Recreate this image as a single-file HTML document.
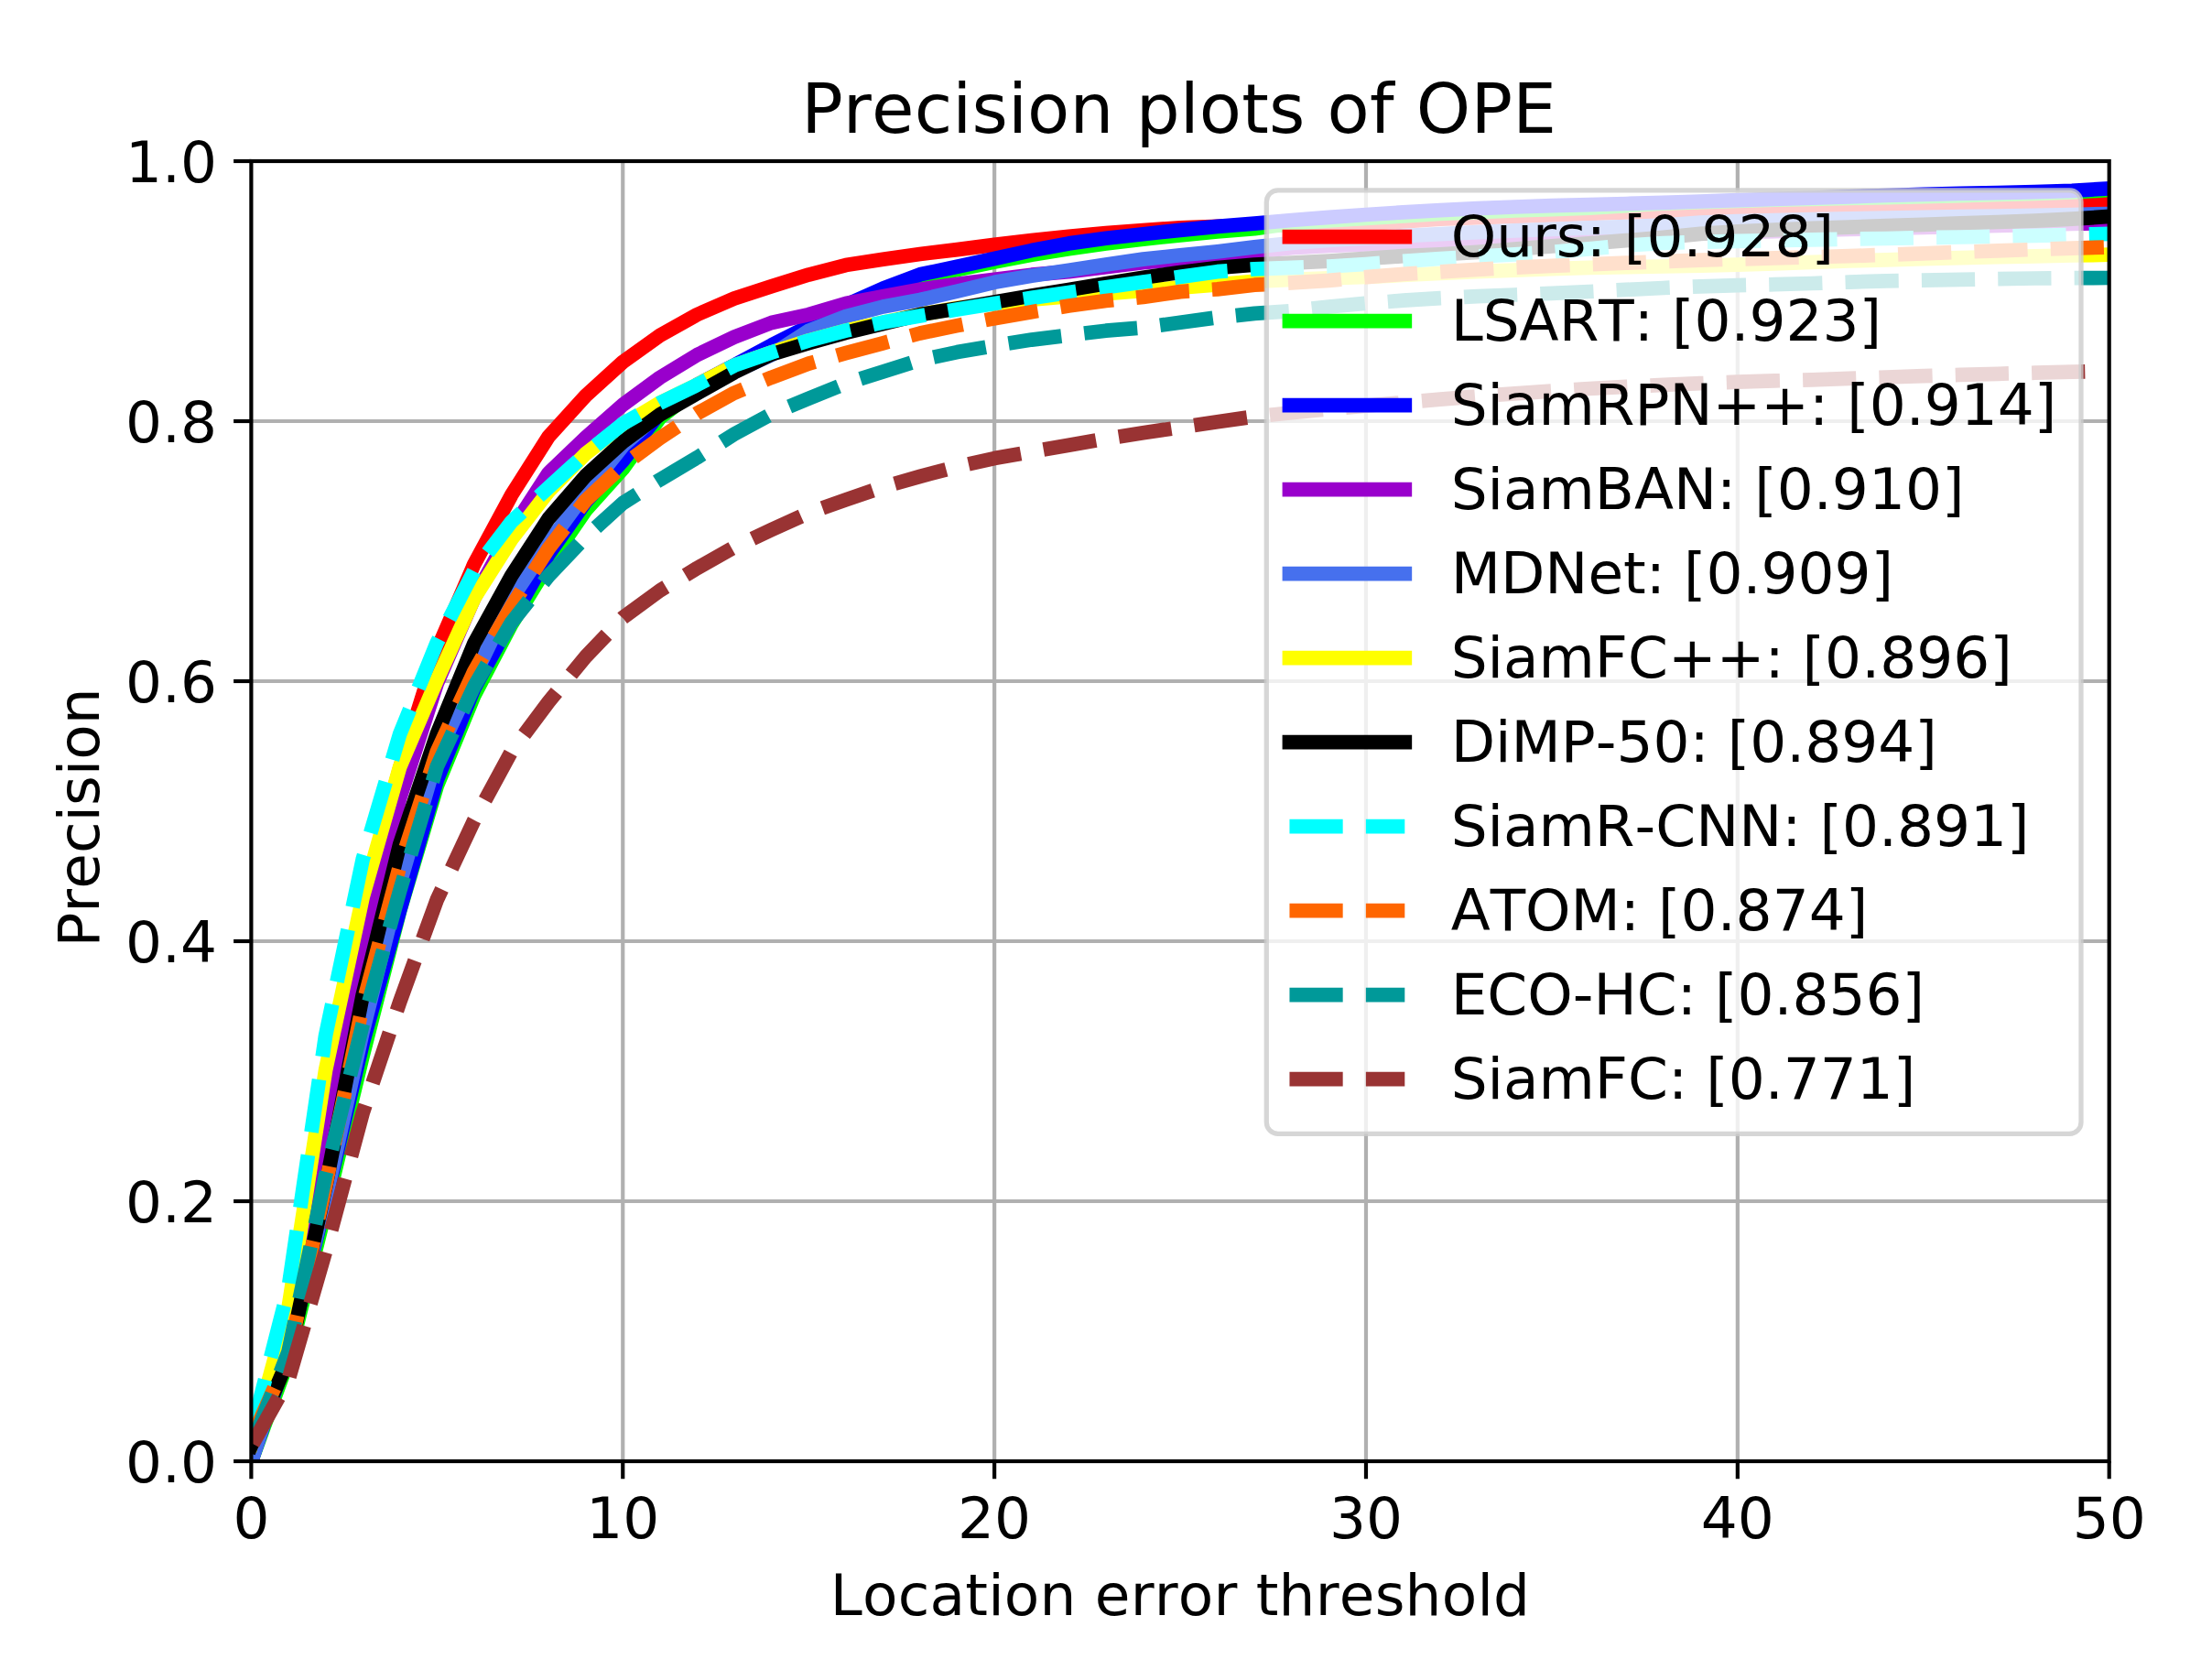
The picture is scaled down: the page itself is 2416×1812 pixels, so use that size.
<!DOCTYPE html>
<html lang="en"><head><meta charset="utf-8"><title>Precision plots of OPE</title>
<style>html,body{margin:0;padding:0;background:#fff}body{width:2416px;height:1812px;overflow:hidden}svg{display:block}text{font-kerning:none;font-family:"DejaVu Sans","Liberation Sans",sans-serif;fill:#000}</style>
</head><body>
<svg width="2416" height="1812" viewBox="0 0 2416 1812">
<rect x="0" y="0" width="2416" height="1812" fill="#ffffff"/>
<defs><clipPath id="ax"><rect x="274.40" y="176.00" width="2029.30" height="1420.00"/></clipPath></defs>
<g stroke="#b0b0b0" stroke-width="4.19" fill="none">
<line x1="680.26" y1="176.00" x2="680.26" y2="1596.00"/>
<line x1="1086.12" y1="176.00" x2="1086.12" y2="1596.00"/>
<line x1="1491.98" y1="176.00" x2="1491.98" y2="1596.00"/>
<line x1="1897.84" y1="176.00" x2="1897.84" y2="1596.00"/>
<line x1="274.40" y1="1312.00" x2="2303.70" y2="1312.00"/>
<line x1="274.40" y1="1028.00" x2="2303.70" y2="1028.00"/>
<line x1="274.40" y1="744.00" x2="2303.70" y2="744.00"/>
<line x1="274.40" y1="460.00" x2="2303.70" y2="460.00"/>
</g>
<g clip-path="url(#ax)" fill="none" stroke-width="15.73" stroke-linejoin="round">
<polyline stroke="#ff0000" stroke-linecap="square" points="274.4,1596.0 315.0,1437.0 355.6,1175.7 396.2,985.4 436.7,839.1 477.3,709.9 517.9,616.2 558.5,540.9 599.1,477.0 639.7,432.3 680.3,395.4 720.8,366.3 761.4,343.6 802.0,326.0 842.6,312.7 883.2,300.1 923.8,289.6 964.4,283.2 1004.9,277.5 1045.5,272.6 1086.1,267.4 1126.7,262.5 1167.3,258.2 1207.9,254.7 1248.5,251.5 1289.0,248.8 1329.6,247.3 1370.2,246.3 1410.8,245.6 1451.4,245.0 1492.0,244.2 1532.6,241.9 1573.2,239.2 1613.7,237.6 1654.3,236.3 1694.9,234.9 1735.5,233.5 1776.1,232.0 1816.7,230.6 1857.3,229.2 1897.8,228.0 1938.4,226.8 1979.0,225.7 2019.6,224.6 2060.2,223.7 2100.8,222.9 2141.4,222.2 2181.9,221.7 2222.5,221.2 2263.1,220.4 2303.7,219.3"/>
<polyline stroke="#00ff00" stroke-linecap="square" points="274.4,1596.0 315.0,1485.2 355.6,1321.9 396.2,1153.0 436.7,994.6 477.3,858.3 517.9,759.6 558.5,682.2 599.1,616.2 639.7,557.3 680.3,512.0 720.8,456.3 761.4,424.5 802.0,402.5 842.6,380.5 883.2,360.2 923.8,336.5 964.4,318.7 1004.9,303.1 1045.5,294.6 1086.1,286.0 1126.7,278.2 1167.3,271.7 1207.9,266.0 1248.5,261.2 1289.0,256.9 1329.6,253.0 1370.2,249.6 1410.8,244.2 1451.4,241.0 1492.0,238.5 1532.6,235.9 1573.2,233.5 1613.7,231.6 1654.3,230.0 1694.9,228.6 1735.5,227.1 1776.1,224.6 1816.7,222.1 1857.3,220.6 1897.8,219.3 1938.4,218.2 1979.0,217.3 2019.6,216.5 2060.2,215.6 2100.8,214.6 2141.4,213.6 2181.9,212.5 2222.5,211.3 2263.1,209.8 2303.7,207.5"/>
<polyline stroke="#0000ff" stroke-linecap="square" points="274.4,1596.0 315.0,1476.7 355.6,1312.0 396.2,1139.2 436.7,993.9 477.3,851.9 517.9,751.7 558.5,677.3 599.1,605.5 639.7,548.0 680.3,503.3 720.8,450.6 761.4,420.2 802.0,398.9 842.6,377.1 883.2,356.6 923.8,333.2 964.4,315.2 1004.9,299.8 1045.5,291.3 1086.1,282.5 1126.7,273.6 1167.3,265.9 1207.9,260.3 1248.5,255.7 1289.0,251.4 1329.6,247.4 1370.2,244.2 1410.8,240.5 1451.4,237.3 1492.0,234.5 1532.6,231.9 1573.2,229.7 1613.7,227.7 1654.3,226.0 1694.9,224.7 1735.5,223.6 1776.1,222.5 1816.7,221.4 1857.3,220.0 1897.8,218.7 1938.4,217.4 1979.0,216.1 2019.6,214.8 2060.2,213.5 2100.8,212.4 2141.4,211.4 2181.9,210.6 2222.5,209.7 2263.1,208.4 2303.7,205.8"/>
<polyline stroke="#9900cc" stroke-linecap="square" points="274.4,1596.0 315.0,1439.8 355.6,1215.4 396.2,1035.1 436.7,871.8 477.3,746.3 517.9,653.1 558.5,579.3 599.1,516.8 639.7,477.8 680.3,442.2 720.8,412.4 761.4,387.6 802.0,368.1 842.6,352.5 883.2,343.6 923.8,331.5 964.4,323.7 1004.9,316.2 1045.5,310.2 1086.1,305.2 1126.7,300.2 1167.3,296.7 1207.9,291.7 1248.5,286.8 1289.0,282.8 1329.6,278.8 1370.2,274.8 1410.8,270.7 1451.4,268.5 1492.0,266.8 1532.6,265.5 1573.2,264.0 1613.7,262.6 1654.3,261.1 1694.9,259.8 1735.5,258.5 1776.1,257.2 1816.7,256.0 1857.3,254.8 1897.8,253.7 1938.4,252.6 1979.0,251.5 2019.6,250.5 2060.2,249.4 2100.8,248.4 2141.4,247.4 2181.9,246.4 2222.5,245.5 2263.1,244.5 2303.7,243.6"/>
<polyline stroke="#4670ee" stroke-linecap="square" points="274.4,1596.0 315.0,1474.4 355.6,1309.7 396.2,1126.5 436.7,965.0 477.3,825.8 517.9,738.9 558.5,654.5 599.1,593.5 639.7,538.1 680.3,487.0 720.8,450.6 761.4,420.8 802.0,406.0 842.6,387.6 883.2,361.3 923.8,345.7 964.4,335.0 1004.9,327.5 1045.5,318.1 1086.1,308.3 1126.7,301.2 1167.3,295.3 1207.9,289.0 1248.5,283.1 1289.0,278.8 1329.6,274.8 1370.2,269.9 1410.8,265.5 1451.4,262.4 1492.0,259.9 1532.6,257.7 1573.2,255.7 1613.7,253.7 1654.3,251.9 1694.9,250.3 1735.5,248.9 1776.1,247.7 1816.7,246.0 1857.3,243.0 1897.8,241.6 1938.4,240.5 1979.0,239.6 2019.6,238.8 2060.2,238.1 2100.8,237.3 2141.4,236.6 2181.9,236.0 2222.5,235.3 2263.1,234.5 2303.7,233.5"/>
<polyline stroke="#ffff00" stroke-linecap="square" points="274.4,1577.5 315.0,1429.0 355.6,1168.6 396.2,979.7 436.7,837.7 477.3,742.6 517.9,653.4 558.5,589.2 599.1,536.7 639.7,495.5 680.3,464.3 720.8,440.1 761.4,420.2 802.0,399.2 842.6,385.0 883.2,372.0 923.8,361.2 964.4,352.1 1004.9,343.6 1045.5,336.5 1086.1,331.5 1126.7,327.2 1167.3,323.7 1207.9,320.6 1248.5,317.3 1289.0,314.2 1329.6,310.9 1370.2,307.4 1410.8,305.4 1451.4,303.9 1492.0,302.4 1532.6,300.5 1573.2,298.5 1613.7,296.7 1654.3,295.1 1694.9,293.6 1735.5,292.4 1776.1,291.6 1816.7,291.0 1857.3,290.2 1897.8,289.1 1938.4,287.8 1979.0,286.4 2019.6,285.0 2060.2,283.8 2100.8,282.7 2141.4,281.7 2181.9,280.7 2222.5,279.8 2263.1,279.0 2303.7,278.2"/>
<polyline stroke="#000000" stroke-linecap="square" points="274.4,1579.0 315.0,1484.5 355.6,1296.4 396.2,1086.8 436.7,922.2 477.3,801.5 517.9,702.8 558.5,629.0 599.1,566.5 639.7,519.6 680.3,482.7 720.8,452.9 761.4,429.6 802.0,406.8 842.6,387.0 883.2,374.8 923.8,363.4 964.4,353.5 1004.9,343.6 1045.5,337.1 1086.1,329.9 1126.7,323.0 1167.3,316.4 1207.9,309.8 1248.5,303.2 1289.0,297.5 1329.6,292.5 1370.2,289.2 1410.8,287.2 1451.4,285.1 1492.0,282.3 1532.6,279.7 1573.2,277.8 1613.7,275.4 1654.3,272.2 1694.9,268.9 1735.5,265.9 1776.1,262.7 1816.7,259.4 1857.3,255.4 1897.8,252.9 1938.4,251.0 1979.0,249.4 2019.6,248.1 2060.2,246.7 2100.8,245.3 2141.4,243.9 2181.9,242.5 2222.5,241.1 2263.1,239.2 2303.7,236.5"/>
<polyline stroke="#00ffff" stroke-dasharray="58.20 25.17" stroke-linecap="butt" stroke-dashoffset="-3.0" points="274.4,1566.2 315.0,1407.1 355.6,1131.0 396.2,938.5 436.7,801.8 477.3,701.8 517.9,623.3 558.5,570.0 599.1,532.4 639.7,495.5 680.3,462.8 720.8,440.1 761.4,420.4 802.0,399.2 842.6,385.0 883.2,372.0 923.8,361.2 964.4,352.1 1004.9,345.0 1045.5,338.1 1086.1,331.5 1126.7,325.4 1167.3,319.5 1207.9,313.7 1248.5,308.0 1289.0,302.4 1329.6,296.7 1370.2,293.8 1410.8,292.4 1451.4,291.0 1492.0,288.5 1532.6,285.4 1573.2,282.5 1613.7,280.1 1654.3,277.9 1694.9,275.4 1735.5,271.9 1776.1,268.1 1816.7,265.5 1857.3,264.2 1897.8,263.3 1938.4,262.5 1979.0,261.9 2019.6,261.2 2060.2,260.5 2100.8,259.7 2141.4,259.0 2181.9,258.3 2222.5,257.4 2263.1,256.4 2303.7,255.4"/>
<polyline stroke="#ff6600" stroke-dasharray="58.20 25.17" stroke-linecap="butt" stroke-dashoffset="-4.0" points="274.4,1572.9 315.0,1481.0 355.6,1295.0 396.2,1097.6 436.7,945.6 477.3,821.0 517.9,733.3 558.5,662.6 599.1,599.2 639.7,546.6 680.3,508.3 720.8,478.5 761.4,451.5 802.0,429.2 842.6,412.3 883.2,397.1 923.8,385.6 964.4,374.8 1004.9,364.0 1045.5,355.6 1086.1,347.7 1126.7,340.7 1167.3,334.0 1207.9,328.5 1248.5,324.4 1289.0,318.6 1329.6,315.9 1370.2,311.2 1410.8,308.9 1451.4,306.4 1492.0,302.7 1532.6,299.4 1573.2,296.8 1613.7,294.4 1654.3,292.2 1694.9,290.3 1735.5,288.7 1776.1,287.2 1816.7,285.6 1857.3,284.2 1897.8,283.0 1938.4,281.9 1979.0,280.8 2019.6,279.7 2060.2,278.3 2100.8,276.8 2141.4,275.3 2181.9,273.8 2222.5,272.5 2263.1,271.1 2303.7,269.9"/>
<polyline stroke="#009999" stroke-dasharray="58.20 25.17" stroke-linecap="butt" stroke-dashoffset="-4.0" points="274.4,1580.4 315.0,1476.7 355.6,1283.6 396.2,1118.5 436.7,973.0 477.3,837.3 517.9,749.7 558.5,680.1 599.1,629.0 639.7,586.4 680.3,549.5 720.8,523.9 761.4,499.8 802.0,474.2 842.6,452.2 883.2,435.3 923.8,418.8 964.4,406.0 1004.9,393.3 1045.5,384.6 1086.1,377.5 1126.7,371.1 1167.3,366.1 1207.9,361.2 1248.5,357.8 1289.0,352.2 1329.6,346.7 1370.2,342.4 1410.8,339.6 1451.4,335.0 1492.0,331.3 1532.6,328.2 1573.2,325.7 1613.7,323.7 1654.3,322.0 1694.9,320.4 1735.5,318.5 1776.1,316.4 1816.7,314.5 1857.3,312.9 1897.8,311.6 1938.4,310.7 1979.0,309.5 2019.6,308.1 2060.2,306.9 2100.8,306.2 2141.4,305.4 2181.9,304.6 2222.5,304.0 2263.1,303.7 2303.7,303.5"/>
<polyline stroke="#993333" stroke-dasharray="58.20 25.17" stroke-linecap="butt" stroke-dashoffset="-3.2" points="274.4,1579.7 315.0,1507.2 355.6,1366.7 396.2,1215.4 436.7,1094.2 477.3,982.6 517.9,895.9 558.5,821.1 599.1,766.7 639.7,717.3 680.3,674.7 720.8,645.0 761.4,620.6 802.0,597.7 842.6,578.6 883.2,560.3 923.8,545.8 964.4,531.9 1004.9,520.4 1045.5,509.6 1086.1,500.6 1126.7,493.4 1167.3,486.3 1207.9,479.2 1248.5,472.8 1289.0,466.8 1329.6,460.7 1370.2,455.0 1410.8,450.8 1451.4,446.9 1492.0,443.2 1532.6,439.6 1573.2,436.2 1613.7,432.9 1654.3,429.8 1694.9,427.0 1735.5,424.5 1776.1,422.3 1816.7,420.4 1857.3,418.7 1897.8,417.2 1938.4,415.9 1979.0,414.8 2019.6,413.4 2060.2,412.0 2100.8,410.7 2141.4,409.4 2181.9,408.3 2222.5,407.2 2263.1,406.2 2303.7,405.3"/>
</g>
<g stroke="#000" stroke-width="4.19" fill="none">
<line x1="274.40" y1="1596.00" x2="274.40" y2="1615.25"/>
<line x1="680.26" y1="1596.00" x2="680.26" y2="1615.25"/>
<line x1="1086.12" y1="1596.00" x2="1086.12" y2="1615.25"/>
<line x1="1491.98" y1="1596.00" x2="1491.98" y2="1615.25"/>
<line x1="1897.84" y1="1596.00" x2="1897.84" y2="1615.25"/>
<line x1="2303.70" y1="1596.00" x2="2303.70" y2="1615.25"/>
<line x1="255.15" y1="1596.00" x2="274.40" y2="1596.00"/>
<line x1="255.15" y1="1312.00" x2="274.40" y2="1312.00"/>
<line x1="255.15" y1="1028.00" x2="274.40" y2="1028.00"/>
<line x1="255.15" y1="744.00" x2="274.40" y2="744.00"/>
<line x1="255.15" y1="460.00" x2="274.40" y2="460.00"/>
<line x1="255.15" y1="176.00" x2="274.40" y2="176.00"/>
<rect x="274.40" y="176.00" width="2029.30" height="1420.00" stroke-linejoin="miter"/>
</g>
<g font-size="62.92">
<text x="274.40" y="1680.30" text-anchor="middle">0</text>
<text x="680.26" y="1680.30" text-anchor="middle">10</text>
<text x="1086.12" y="1680.30" text-anchor="middle">20</text>
<text x="1491.98" y="1680.30" text-anchor="middle">30</text>
<text x="1897.84" y="1680.30" text-anchor="middle">40</text>
<text x="2303.70" y="1680.30" text-anchor="middle">50</text>
<text x="237.00" y="1618.90" text-anchor="end">0.0</text>
<text x="237.00" y="1334.90" text-anchor="end">0.2</text>
<text x="237.00" y="1050.90" text-anchor="end">0.4</text>
<text x="237.00" y="766.90" text-anchor="end">0.6</text>
<text x="237.00" y="482.90" text-anchor="end">0.8</text>
<text x="237.00" y="198.90" text-anchor="end">1.0</text>
<text x="1289.00" y="1763.60" text-anchor="middle" letter-spacing="0.2">Location error threshold</text>
<text transform="translate(108.20,893.00) rotate(-90)" text-anchor="middle">Precision</text>
</g>
<text x="1287.60" y="144.80" text-anchor="middle" font-size="75.50" letter-spacing="0.16">Precision plots of OPE</text>
<rect x="1383.30" y="207.80" width="889.70" height="1030.60" rx="12.58" ry="12.58" fill="#ffffff" fill-opacity="0.8" stroke="#cccccc" stroke-opacity="0.8" stroke-width="5.24"/>
<g fill="none" stroke-width="15.73">
<line x1="1408.47" y1="258.60" x2="1534.30" y2="258.60" stroke="#ff0000" stroke-linecap="square"/>
<line x1="1408.47" y1="350.60" x2="1534.30" y2="350.60" stroke="#00ff00" stroke-linecap="square"/>
<line x1="1408.47" y1="442.60" x2="1534.30" y2="442.60" stroke="#0000ff" stroke-linecap="square"/>
<line x1="1408.47" y1="534.60" x2="1534.30" y2="534.60" stroke="#9900cc" stroke-linecap="square"/>
<line x1="1408.47" y1="626.60" x2="1534.30" y2="626.60" stroke="#4670ee" stroke-linecap="square"/>
<line x1="1408.47" y1="718.60" x2="1534.30" y2="718.60" stroke="#ffff00" stroke-linecap="square"/>
<line x1="1408.47" y1="810.60" x2="1534.30" y2="810.60" stroke="#000000" stroke-linecap="square"/>
<line x1="1408.47" y1="902.60" x2="1534.30" y2="902.60" stroke="#00ffff" stroke-dasharray="58.20 25.17" stroke-linecap="butt"/>
<line x1="1408.47" y1="994.60" x2="1534.30" y2="994.60" stroke="#ff6600" stroke-dasharray="58.20 25.17" stroke-linecap="butt"/>
<line x1="1408.47" y1="1086.60" x2="1534.30" y2="1086.60" stroke="#009999" stroke-dasharray="58.20 25.17" stroke-linecap="butt"/>
<line x1="1408.47" y1="1178.60" x2="1534.30" y2="1178.60" stroke="#993333" stroke-dasharray="58.20 25.17" stroke-linecap="butt"/>
</g>
<g font-size="62.92">
<text x="1584.63" y="280.00">Ours: [0.928]</text>
<text x="1584.63" y="372.00">LSART: [0.923]</text>
<text x="1584.63" y="464.00">SiamRPN++: [0.914]</text>
<text x="1584.63" y="556.00">SiamBAN: [0.910]</text>
<text x="1584.63" y="648.00">MDNet: [0.909]</text>
<text x="1584.63" y="740.00">SiamFC++: [0.896]</text>
<text x="1584.63" y="832.00">DiMP-50: [0.894]</text>
<text x="1584.63" y="924.00">SiamR-CNN: [0.891]</text>
<text x="1584.63" y="1016.00">ATOM: [0.874]</text>
<text x="1584.63" y="1108.00">ECO-HC: [0.856]</text>
<text x="1584.63" y="1200.00">SiamFC: [0.771]</text>
</g>
</svg>
</body></html>
